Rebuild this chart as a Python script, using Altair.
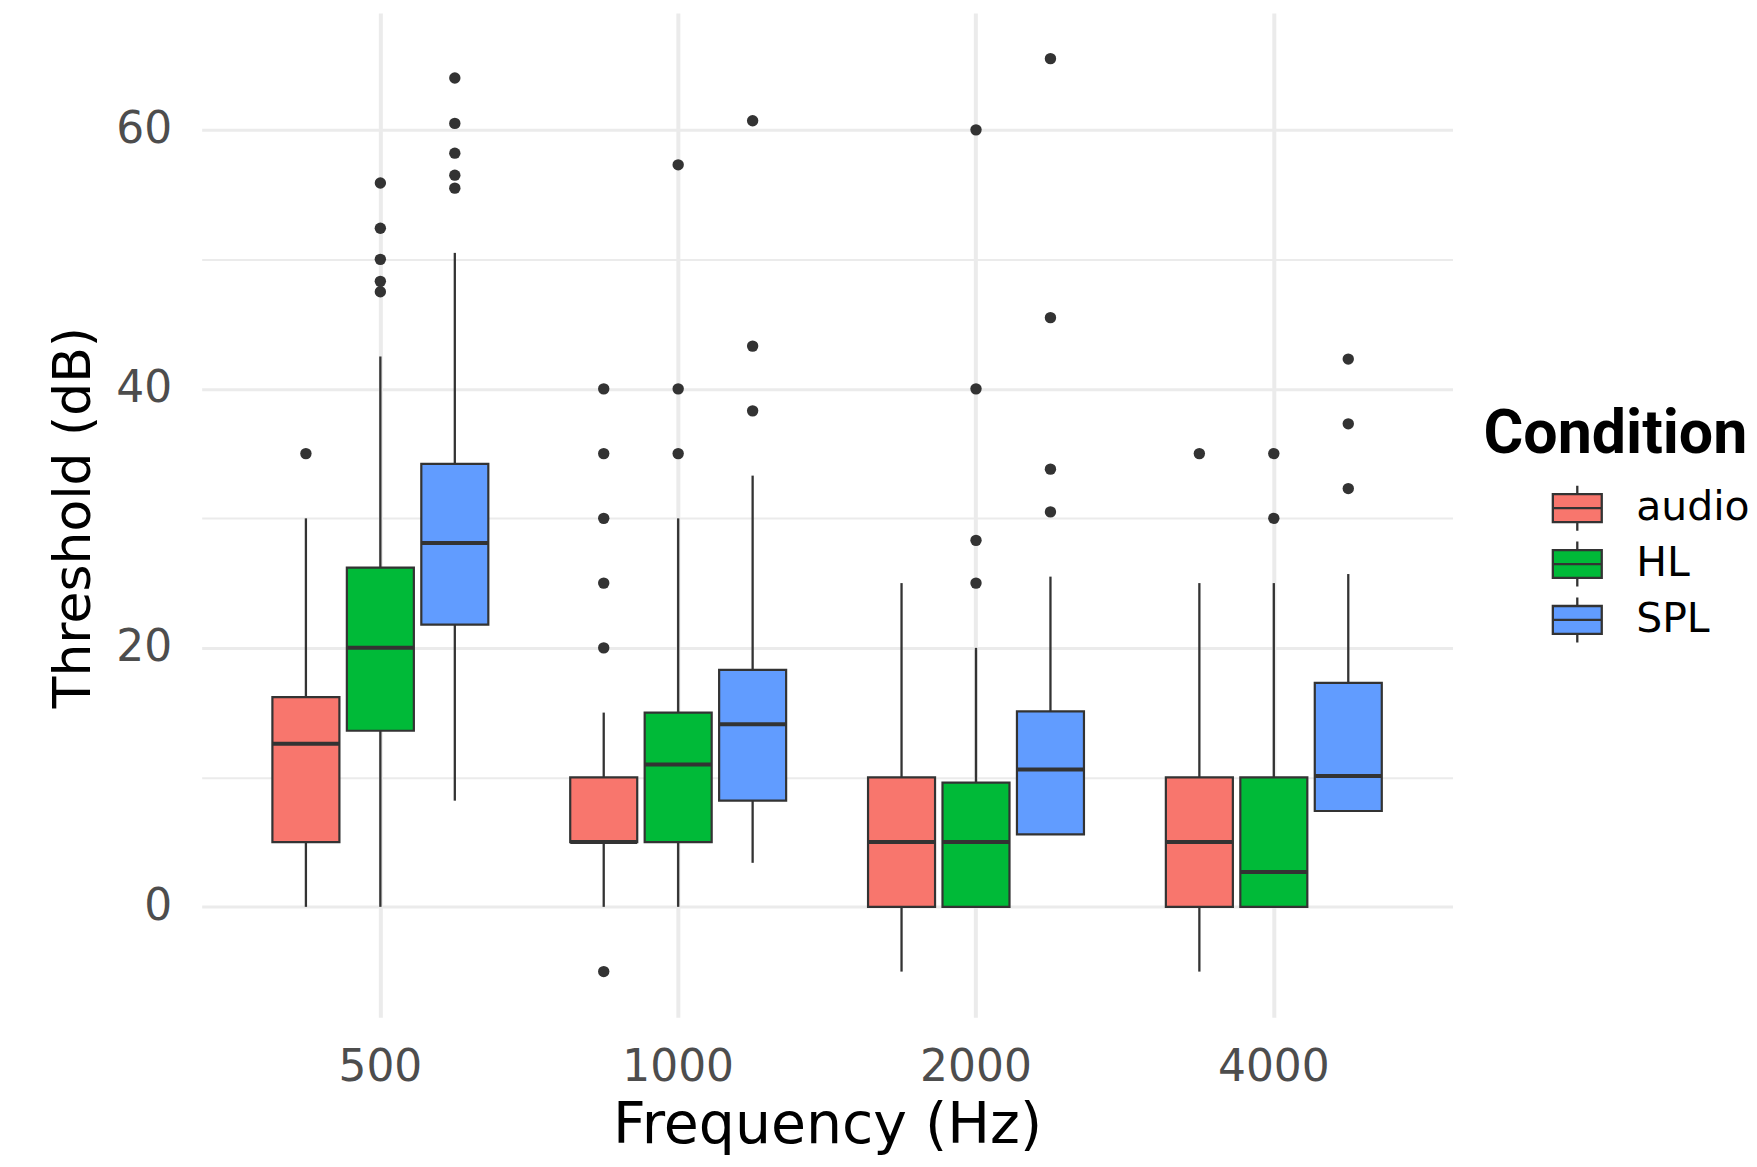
import altair as alt
import pandas as pd

freqs = ["500", "1000", "2000", "4000"]
conds = ["audio", "HL", "SPL"]
colors = ["#F8766D", "#00BA38", "#619CFF"]

# summary stats per (freq, cond), order: audio, HL, SPL for each frequency
lo  = [0, 0, 8.2,    0, 0, 3.4,    -5, 0, 5.6,    -5, 0, 7.4]
q1  = [5, 13.6, 21.8, 5, 5, 8.2,   0, 0, 5.6,     0, 0, 7.4]
med = [12.6, 20, 28.1, 5, 11, 14.1, 5, 5, 10.6,   5, 2.7, 10.1]
q3  = [16.2, 26.2, 34.2, 10, 15, 18.3, 10, 9.6, 15.1, 10, 10, 17.3]
hi  = [30, 42.5, 50.5, 15, 30, 33.3, 25, 20, 25.5, 25, 25, 25.7]

outliers = [
    [35], [55.9, 52.4, 50, 48.3, 47.5], [64, 60.5, 58.2, 56.5, 55.5],
    [40, 35, 30, 25, 20, -5], [57.3, 40, 35], [60.7, 43.3, 38.3],
    [], [60, 40, 28.3, 25], [65.5, 45.5, 33.8, 30.5],
    [35], [35, 30], [42.3, 37.3, 32.3],
]

rows, orows = [], []
k = 0
for f in freqs:
    for c in conds:
        rows.append(dict(freq=f, cond=c, lo=lo[k], q1=q1[k], med=med[k], q3=q3[k], hi=hi[k]))
        for v in outliers[k]:
            orows.append(dict(freq=f, cond=c, value=v))
        k += 1
boxes = pd.DataFrame(rows)
outs = pd.DataFrame(orows)

FONT = "DejaVu Sans"
GRID = "#EBEBEB"
DARK = "#333333"

xaxis = alt.Axis(title="Frequency (Hz)", labelAngle=0, grid=True, gridColor=GRID, gridWidth=4,
                 domain=False, ticks=False, tickSize=0, labelPadding=28, labelFontSize=44,
                 labelColor="#4D4D4D", labelFont=FONT, titleFont=FONT, titleFontSize=57,
                 titleFontWeight="normal", titleColor="black", titleBaseline="alphabetic",
                 titleY=125)
yaxis = alt.Axis(title="Threshold (dB)", values=[0, 10, 20, 30, 40, 50, 60],
                 labelExpr="datum.value % 20 === 0 ? datum.label : ''",
                 grid=True, gridColor=GRID,
                 gridWidth={"condition": {"test": "datum.value % 20 === 0", "value": 3}, "value": 2},
                 domain=False, ticks=False, tickSize=0, labelPadding=30, labelFontSize=44,
                 labelColor="#4D4D4D", labelFont=FONT, titleFont=FONT, titleFontSize=52,
                 titleFontWeight="normal", titleColor="black", titleAngle=270,
                 titleBaseline="alphabetic", titleAlign="center", titleX=-112, titleY=505)
yscale = alt.Scale(domain=[-8.525, 69.025], nice=False, zero=False)

X = alt.X("freq:N", sort=freqs, title="Frequency (Hz)", axis=xaxis,
          scale=alt.Scale(paddingInner=0.25, paddingOuter=0.225))
XO = alt.XOffset("cond:N", sort=conds, scale=alt.Scale(paddingInner=0.1, paddingOuter=0.05))

def Y(field):
    return alt.Y(field, title="Threshold (dB)", axis=yaxis, scale=yscale)

base = alt.Chart(boxes).encode(x=X, xOffset=XO)

wl = base.mark_rule(color=DARK, strokeWidth=2.3).encode(y=Y("lo:Q"), y2="q1:Q")
wh = base.mark_rule(color=DARK, strokeWidth=2.3).encode(y=Y("q3:Q"), y2="hi:Q")

legend = alt.Legend(title="Condition", orient="none", legendX=1284, legendY=393,
                    titleFont="Roboto", titleFontWeight="bold", titleFontSize=61, titleColor="black",
                    titleLimit=500, titlePadding=16, labelFont=FONT, labelFontSize=41,
                    labelColor="black", labelLimit=300,
                    symbolType="M-1,-0.57H1V0.57H-1Z M-1,0H1 M0,-0.57V-0.92 M0,0.57V0.92",
                    symbolSize=2401, symbolStrokeColor=DARK, symbolStrokeWidth=2.3,
                    symbolOffset=68, labelOffset=33, rowPadding=0, padding=0)

box = base.mark_bar(stroke=DARK, strokeWidth=2.2).encode(
    y=Y("q1:Q"), y2="q3:Q",
    color=alt.Color("cond:N", sort=conds, scale=alt.Scale(domain=conds, range=colors), legend=legend),
)
median = base.mark_tick(color=DARK, size=67, thickness=4, opacity=1).encode(y=Y("med:Q"))

pts = alt.Chart(outs).mark_circle(size=130, color=DARK, opacity=1).encode(x=X, xOffset=XO, y=Y("value:Q"))

chart = alt.layer(wl, wh, box, median, pts).properties(
    width=1253, height=1006,
    background="white",
    autosize=alt.AutoSizeParams(type="none"),
    padding={"left": 194, "top": 4, "right": 297, "bottom": 137},
).configure_view(strokeWidth=0, stroke="transparent")

chart.save("out.html", embed_options={"renderer": "svg", "actions": False})
